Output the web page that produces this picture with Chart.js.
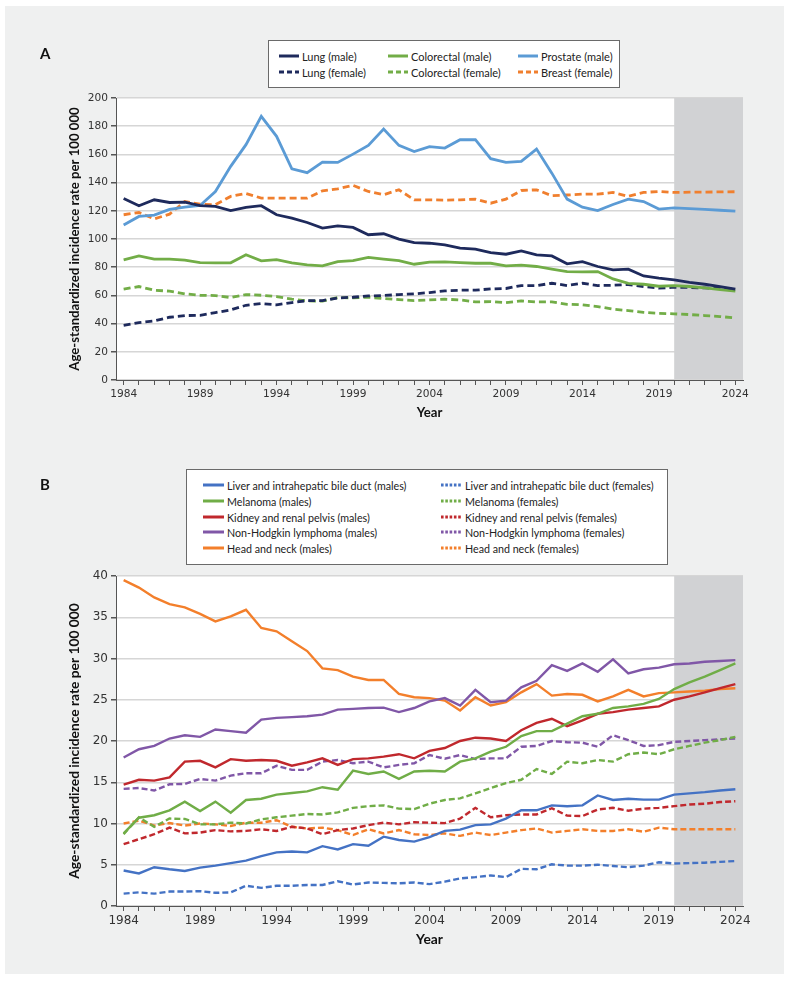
<!DOCTYPE html>
<html><head><meta charset="utf-8">
<script src="https://cdn.jsdelivr.net/npm/chart.js@4.4.1/dist/chart.umd.min.js"></script>
<style>
body{margin:0;width:791px;height:982px;position:relative;background:#fff;overflow:hidden}
#bg{position:absolute;left:5px;top:6px;width:779px;height:968px;background:#eff0f0}
.plabel{position:absolute;font-family:Lato,sans-serif;font-weight:bold;font-size:15px;line-height:16px;color:#111}
.legend{position:absolute;background:#fff;border:1px solid #6a6a6a;box-sizing:border-box;font-family:Lato,sans-serif;color:#222}
.item{position:absolute;display:flex;align-items:center;white-space:nowrap;height:16px}
.item svg{display:block}
.item span{margin-left:3px;display:inline-block;transform-origin:left center}
#legB .item span{transform:scaleX(0.955)}
.wrap{position:absolute;left:0;width:791px}
</style></head><body>
<div id="bg"></div>
<div class="wrap" style="top:0;height:440px"><canvas id="cA"></canvas></div>
<div class="wrap" style="top:440px;height:542px"><canvas id="cB"></canvas></div>
<div class="plabel" style="left:40px;top:45px">A</div>
<div class="plabel" style="left:40px;top:476px">B</div>
<div id="legA" class="legend" style="left:268px;top:40px;width:352px;height:48px;font-size:11px"></div>
<div id="legB" class="legend" style="left:186px;top:469px;width:482px;height:96px;font-size:11.2px"></div>
<script>
// ---------- categories ----------
const years = ['1984','1985','1986','1987','1988','1989','1990','1991','1992','1993',
  '1994','1995','1996','1997','1998','1999','2000','2001','2002','2003',
  '2004','2005','2006','2007','2008','2009','2010','2011','2012','2013',
  '2014','2015','2016','2017','2018','2019','2020','2021','2022','2023','2024'];
const projectionStart = '2020';
const yTitle = 'Age-standardized incidence rate per 100 000';
const xTitle = 'Year';

// ---------- Panel A series ----------
const lungMale = [128.8,123.6,127.8,125.9,126.2,123.6,123.1,120.2,122.4,123.6,
  117.2,114.8,111.7,107.7,109.3,108.2,103,103.7,99.9,97.5,
  97,95.9,93.5,92.8,90.4,89.2,91.6,88.8,88,82.4,
  84,80.5,78.1,78.6,73.8,72.2,71,69.3,67.9,66.3,64.4];
const colorectalMale = [85.2,88,85.7,85.7,85,83.3,83.1,83.1,88.8,84.5,
  85.4,83.1,81.7,80.9,84,84.7,86.9,85.7,84.7,82.1,
  83.6,83.8,83.3,82.8,82.8,80.9,81.4,80.5,78.6,76.9,
  76.7,76.9,71.7,68.6,67.9,66.5,67,66.3,65.3,64.1,63];
const prostateMale = [110,116,117,121,122.6,123.8,133.7,151.5,166.9,187,
  172.8,149.8,147,154.5,154.3,160.2,166.4,178,166.4,162,
  165.5,164.5,170.4,170.4,157,154.3,155,163.8,146.7,128.3,
  122.6,120.2,124.5,128.3,126.6,121.2,122.1,121.5,121,120.4,119.8];
const lungFemale = [38.8,40.7,41.9,44.5,45.7,45.9,47.8,49.7,53,54.2,
  53.3,54.9,56.3,56.3,58.2,58.7,59.6,59.9,60.6,61.1,
  62,63.2,63.7,63.7,64.6,64.9,67,67,68.6,67,
  68.6,67,67.2,67.7,66.3,65.1,65.8,65.6,65.3,64.9,64.4];
const colorectalFemale = [64.4,66.3,63.7,63,61.1,60.1,59.9,58.5,60.6,60.1,
  59.2,57.3,56.1,55.9,58.5,58.2,58.7,57.8,57,56.3,
  56.8,57.3,56.8,55.4,55.6,54.9,56.1,55.4,55.4,53.7,
  53.3,52.1,50.2,49.2,48,47.3,46.9,46.4,45.7,45,44];
const breastFemale = [117.2,118.8,114.3,117.6,126.6,124.7,124.3,130.2,132.3,129,
  129,129,129,134.2,135.6,138,133.7,131.4,134.9,127.8,
  127.8,127.6,127.8,128.3,125.4,128.3,134.4,134.9,130.7,131.2,
  131.8,131.8,133,130.2,133,133.7,133,133.2,133.3,133.4,133.5];

// ---------- Panel B series ----------
const liverMales = [4.3,3.95,4.7,4.45,4.25,4.65,4.9,5.2,5.5,6.05,
  6.5,6.6,6.5,7.25,6.85,7.5,7.3,8.4,8,7.8,
  8.35,9.1,9.25,9.8,9.9,10.6,11.6,11.6,12.2,12.1,
  12.2,13.4,12.85,13,12.9,12.9,13.5,13.65,13.8,14,14.15];
const liverFemales = [1.5,1.65,1.5,1.75,1.75,1.8,1.6,1.65,2.45,2.2,
  2.45,2.45,2.55,2.55,3,2.6,2.85,2.8,2.75,2.85,
  2.65,2.95,3.35,3.5,3.7,3.5,4.5,4.45,5.05,4.9,
  4.9,5,4.85,4.7,4.9,5.3,5.15,5.2,5.25,5.35,5.45];
const melanomaMales = [8.8,10.7,11,11.6,12.65,11.5,12.65,11.3,12.85,13,
  13.5,13.7,13.9,14.4,14.1,16.4,16,16.3,15.4,16.3,
  16.4,16.3,17.5,17.9,18.7,19.3,20.6,21.2,21.2,22.1,
  23,23.3,24,24.2,24.5,25.1,26.3,27.1,27.8,28.6,29.4];
const melanomaFemales = [8.7,10.75,9.6,10.6,10.55,9.9,9.9,10.1,10,10.5,
  10.75,10.95,11.15,11.1,11.35,11.9,12.1,12.2,11.8,11.75,
  12.4,12.85,13.05,13.65,14.3,14.9,15.3,16.6,16,17.5,
  17.3,17.7,17.5,18.4,18.6,18.4,19,19.4,19.8,20.1,20.5];
const kidneyMales = [14.7,15.3,15.2,15.6,17.5,17.6,16.8,17.8,17.6,17.7,
  17.6,17,17.4,17.9,17.1,17.8,17.9,18.1,18.4,17.9,
  18.8,19.15,20,20.4,20.3,20,21.3,22.2,22.7,21.8,
  22.5,23.3,23.5,23.8,24,24.2,25,25.4,25.9,26.4,26.9];
const kidneyFemales = [7.5,8.1,8.7,9.5,8.8,8.9,9.2,9.05,9.1,9.3,
  9.1,9.6,9.4,8.7,9.2,9.4,9.8,10.1,9.9,10.15,
  10.1,10.05,10.6,11.9,10.75,11,11.1,11.1,11.85,10.95,
  10.9,11.7,11.9,11.55,11.8,11.9,12.1,12.3,12.4,12.6,12.7];
const nhlMales = [18,19,19.4,20.3,20.7,20.5,21.4,21.2,21,22.6,
  22.8,22.9,23,23.2,23.8,23.9,24,24.05,23.5,24,
  24.8,25.2,24.3,26.2,24.7,24.9,26.5,27.3,29.2,28.5,
  29.4,28.4,29.9,28.2,28.7,28.9,29.3,29.4,29.6,29.7,29.8];
const nhlFemales = [14.2,14.3,14,14.75,14.8,15.4,15.2,15.8,16.1,16.1,
  17,16.5,16.5,17.5,17.7,17.3,17.5,16.8,17.1,17.3,
  18.3,17.85,18.3,17.8,17.9,17.9,19.3,19.4,20,19.85,
  19.8,19.3,20.7,20.1,19.4,19.5,19.9,20,20.1,20.2,20.3];
const headNeckMales = [39.5,38.6,37.4,36.6,36.2,35.4,34.5,35.1,35.9,33.7,
  33.3,32.1,30.9,28.8,28.6,27.8,27.4,27.4,25.7,25.3,
  25.2,24.9,23.7,25.3,24.3,24.7,25.9,26.9,25.5,25.7,
  25.6,24.8,25.4,26.2,25.4,25.8,25.9,26,26.1,26.3,26.4];
const headNeckFemales = [10,10.35,9.75,10.05,9.75,10,9.9,9.7,10.1,10.1,
  10.4,9.6,9.4,9.5,9.2,8.6,9.3,8.8,9.2,8.7,
  8.6,8.8,8.5,8.9,8.6,8.9,9.2,9.4,8.9,9.1,
  9.3,9.1,9.1,9.3,9,9.5,9.3,9.3,9.3,9.3,9.3];

// ---------- styles ----------
const C = {lung:'#1e2a5c', colo:'#72ad47', prost:'#5b9bd5', breast:'#f07f2e',
  liver:'#4472c4', mel:'#70ad47', kid:'#c0282d', nhl:'#8057a7', head:'#f37f2b'};
const dashA = [7,4], dashB = [6,3];

const projIdx = years.indexOf(projectionStart);
const areaPlugin = {
  id:'area',
  beforeDraw(chart){
    const {ctx, chartArea:a} = chart;
    ctx.save(); ctx.fillStyle='#ffffff';
    ctx.fillRect(a.left, a.top, a.right-a.left, a.bottom-a.top);
    ctx.restore();
  },
  beforeDatasetsDraw(chart){
    const {ctx, chartArea:a, scales:{x}} = chart;
    const x0 = x.getPixelForValue(projIdx);
    ctx.save(); ctx.fillStyle='#d1d2d4';
    ctx.fillRect(x0, a.top, a.right-x0, a.bottom-a.top-1);
    ctx.restore();
  }
};

function ds(label, data, color, dash, width){
  return {label, data, borderColor:color, backgroundColor:color, borderWidth:width,
    borderDash:dash||[], pointRadius:0, fill:false, tension:0};
}

function makeOptions(c){
  return {
    responsive:true, maintainAspectRatio:false, animation:false,
    layout:{padding:c.padding},
    plugins:{legend:{display:false}, tooltip:{enabled:false}},
    scales:{
      x:{type:'category', offset:true,
        grid:{display:true, drawOnChartArea:false, drawTicks:true, tickLength:5, tickColor:'#555', offset:false},
        border:{color:'#555', width:1},
        ticks:{autoSkip:false, maxRotation:0, minRotation:0, padding:3, color:'#333', font:c.tickFont,
          callback(v,i){ return i%5===0 ? this.getLabelForValue(v) : ''; }},
        title:{display:true, text:xTitle, color:'#111', font:c.titleFont, padding:{top:0,bottom:c.xTitlePad}},
        afterFit(s){ s.height = c.xHeight; }
      },
      y:{min:0, max:c.ymax,
        ticks:{stepSize:c.step, padding:3, color:'#333', font:c.tickFont},
        grid:{color:'#d6d6d6', lineWidth:1.5, tickLength:5, tickColor:'#555'},
        border:{color:'#555', width:1},
        title:{display:true, text:yTitle, color:'#111', font:c.titleFont, padding:{top:c.yTitlePad,bottom:0}},
        afterFit(s){ s.width = c.yWidth; }
      }
    }
  };
}

const dsA = [
  ds('Lung (male)', lungMale, C.lung, null, 2.8),
  ds('Colorectal (male)', colorectalMale, C.colo, null, 2.8),
  ds('Prostate (male)', prostateMale, C.prost, null, 2.8),
  ds('Lung (female)', lungFemale, C.lung, dashA, 2.8),
  ds('Colorectal (female)', colorectalFemale, C.colo, dashA, 2.8),
  ds('Breast (female)', breastFemale, C.breast, dashA, 2.8)
];
const dsB = [
  ds('Liver and intrahepatic bile duct (males)', liverMales, C.liver, null, 2.4),
  ds('Liver and intrahepatic bile duct (females)', liverFemales, C.liver, dashB, 2.4),
  ds('Melanoma (males)', melanomaMales, C.mel, null, 2.4),
  ds('Melanoma (females)', melanomaFemales, C.mel, dashB, 2.4),
  ds('Kidney and renal pelvis (males)', kidneyMales, C.kid, null, 2.4),
  ds('Kidney and renal pelvis (females)', kidneyFemales, C.kid, dashB, 2.4),
  ds('Non-Hodgkin lymphoma (males)', nhlMales, C.nhl, null, 2.4),
  ds('Non-Hodgkin lymphoma (females)', nhlFemales, C.nhl, dashB, 2.4),
  ds('Head and neck (males)', headNeckMales, C.head, null, 2.4),
  ds('Head and neck (females)', headNeckFemales, C.head, dashB, 2.4)
];

const chartA = new Chart(document.getElementById('cA'), {
  type:'line', data:{labels:years, datasets:dsA},
  options:makeOptions({padding:{left:60,right:48,top:98,bottom:15}, ymax:200, step:20,
    tickFont:{family:'DejaVu Sans', size:10.6}, titleFont:{family:'Lato', weight:'bold', size:13.2},
    xTitlePad:4.2, yTitlePad:6.5, xHeight:45, yWidth:56}),
  plugins:[areaPlugin]
});
const chartB = new Chart(document.getElementById('cB'), {
  type:'line', data:{labels:years, datasets:dsB},
  options:makeOptions({padding:{left:60,right:48,top:136,bottom:30}, ymax:40, step:5,
    tickFont:{family:'DejaVu Sans', size:12}, titleFont:{family:'Lato', weight:'bold', size:13.8},
    xTitlePad:3.8, yTitlePad:6.6, xHeight:46, yWidth:56}),
  plugins:[areaPlugin]
});

// ---------- HTML legends from the datasets ----------
function legend(el, chart, pos, len, width, legDash){
  chart.data.datasets.forEach((d,i)=>{
    const p = pos[i];
    const item = document.createElement('div');
    item.className = 'item';
    item.style.left = p[0]+'px'; item.style.top = (p[1]-8)+'px';
    const dash = d.borderDash.length ? legDash : 'none';
    item.innerHTML = '<svg width="'+len+'" height="6"><line x1="0" y1="3" x2="'+len+'" y2="3" stroke="'+d.borderColor+
      '" stroke-width="'+width+'" stroke-dasharray="'+dash+'"/></svg>';
    const s = document.createElement('span'); s.textContent = d.label; item.appendChild(s);
    el.appendChild(item);
  });
}
legend(document.getElementById('legA'), chartA,
  [[10,15],[119,15],[249,15],[10,31],[119,31],[249,31]], 20, 3, '5 3');
legend(document.getElementById('legB'), chartB,
  [[16,15],[254,15],[16,31],[254,31],[16,47],[254,47],[16,62],[254,62],[16,78],[254,78]], 21, 3, '2.6 1.7');
</script>
</body></html>
